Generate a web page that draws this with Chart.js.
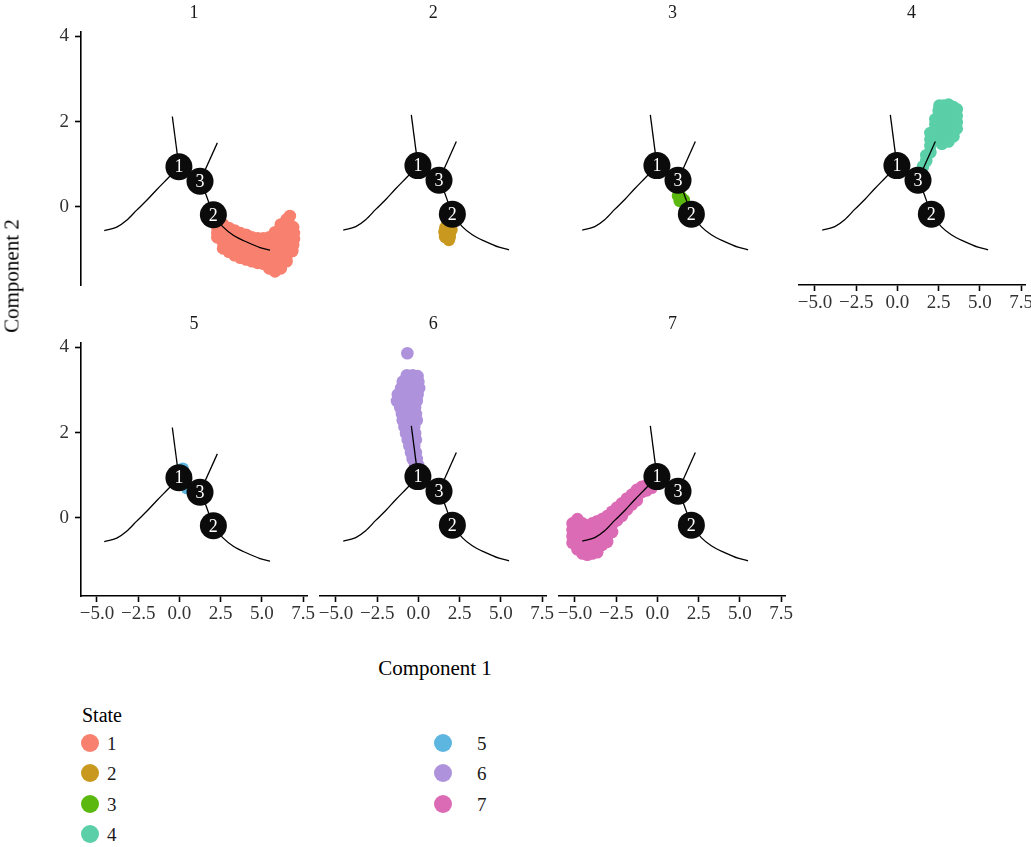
<!DOCTYPE html>
<html><head><meta charset="utf-8">
<script src="https://cdn.jsdelivr.net/npm/chart.js@4"></script>
<style>
body{margin:0;background:#fff;width:1031px;height:847px;position:relative;overflow:hidden;font-family:"Liberation Serif","DejaVu Serif",serif;}
canvas{position:absolute;}
.t{position:absolute;white-space:nowrap;color:#1a1a1a;line-height:1;transform:translate(-50%,-50%);}
.l{position:absolute;white-space:nowrap;color:#1a1a1a;line-height:1;transform:translate(0,-50%);}
.dot{position:absolute;width:18px;height:18px;border-radius:50%;transform:translate(-50%,-50%);}
</style></head><body>
<script>
// ---------- data ----------
const states = ['1','2','3','4','5','6','7'];
const stateColors = ['#F8806F','#C8991E','#5BB80E','#5ACFA8','#5DB6E0','#AE93DC','#DC6BB5'];

const xTicks = [-5, -2.5, 0, 2.5, 5, 7.5];
const xTickLabels = ['\u22125.0','\u22122.5','0.0','2.5','5.0','7.5'];
const yTicks = [0, 2, 4];
const yTickLabels = ['0','2','4'];

// branch points of the trajectory
const nodeIds = ['1','3','2'];
const nodeX = [-0.03, 1.25, 2.06];
const nodeY = [0.94, 0.60, -0.19];

// trajectory segments
const branchLeft  = [[-4.56,-0.56],[-3.80,-0.48],[-3.20,-0.32],[-2.59,-0.08],[-1.98,0.15],[-1.38,0.40],[-0.67,0.68],[-0.03,0.94]];
const branchTop   = [[-0.03,0.94],[-0.43,2.12]];
const branchMid   = [[-0.03,0.94],[1.25,0.60],[2.06,-0.19]];
const branchUp    = [[1.25,0.60],[2.30,1.50]];
const branchRight = [[2.06,-0.19],[2.66,-0.48],[3.27,-0.67],[4.08,-0.83],[4.89,-0.96],[5.50,-1.02]];

// cells per state (Component 1, Component 2)
const state1 = [
 [2.1,-0.3],[2.3,-0.35],[2.3,-0.5],[2.3,-0.62],[2.3,-0.72],
 [2.65,-0.42],[2.65,-0.56],[2.65,-0.7],[2.65,-0.84],[2.65,-0.98],
 [3.0,-0.5],[3.0,-0.64],[3.0,-0.78],[3.0,-0.92],[3.0,-1.06],
 [3.35,-0.56],[3.35,-0.7],[3.35,-0.85],[3.35,-1.0],[3.35,-1.14],
 [3.7,-0.62],[3.7,-0.76],[3.7,-0.9],[3.7,-1.05],[3.7,-1.2],
 [4.05,-0.66],[4.05,-0.8],[4.05,-0.95],[4.05,-1.1],[4.05,-1.24],
 [4.4,-0.72],[4.4,-0.86],[4.4,-1.0],[4.4,-1.15],[4.4,-1.28],
 [4.75,-0.74],[4.75,-0.88],[4.75,-1.03],[4.75,-1.18],[4.75,-1.32],
 [5.1,-0.74],[5.1,-0.88],[5.1,-1.03],[5.1,-1.18],[5.1,-1.34],
 [5.45,-0.72],[5.45,-0.86],[5.45,-1.02],[5.45,-1.18],[5.45,-1.34],[5.45,-1.45],
 [5.8,-0.6],[5.8,-0.72],[5.8,-0.86],[5.8,-1.02],[5.8,-1.18],[5.8,-1.35],[5.8,-1.52],
 [6.15,-0.42],[6.15,-0.56],[6.15,-0.7],[6.15,-0.86],[6.15,-1.02],[6.15,-1.18],[6.15,-1.33],[6.15,-1.45],
 [6.5,-0.3],[6.5,-0.42],[6.5,-0.56],[6.5,-0.7],[6.5,-0.86],[6.5,-1.02],[6.5,-1.16],[6.5,-1.28],
 [6.7,-0.22],[6.9,-0.48],[6.95,-0.62],[6.95,-0.76],[6.9,-0.9],[6.85,-1.04]
];
const state2 = [[1.64,-0.5],[1.82,-0.67],[1.85,-0.79],[1.58,-0.6],[2.0,-0.56],[1.9,-0.72],[1.7,-0.62],[1.75,-0.45],[1.62,-0.72]];
const state3 = [[1.25,0.24],[1.45,0.2],[1.6,0.14],[1.35,0.12]];
const state4 = [
 [1.55,0.92],[1.75,1.05],[1.75,1.18],[2.0,1.25],[2.0,1.4],[2.0,1.55],[2.0,1.7],
 [2.3,1.6],[2.3,1.75],[2.3,1.9],[2.3,2.02],
 [2.5,2.1],[2.5,2.22],[2.55,2.34],
 [2.7,1.45],[2.7,1.6],
 [2.8,1.75],[2.8,1.9],[2.8,2.05],[2.8,2.2],[2.8,2.34],
 [3.1,1.5],[3.1,1.65],[3.1,1.8],[3.1,1.95],[3.1,2.1],[3.1,2.25],[3.1,2.36],
 [3.4,1.62],[3.4,1.76],[3.4,1.9],[3.4,2.05],[3.4,2.2],[3.4,2.3],
 [3.6,1.8],[3.6,1.95],[3.6,2.1],[3.6,2.25]
];
const state5 = [[0.2,1.15],[0.35,1.0],[0.3,0.85],[0.45,0.7],[0.1,1.05],[0.4,0.9]];
const state6 = [
 [-0.67,3.81],
 [-0.7,3.3],[-0.35,3.3],[-0.05,3.28],
 [-0.95,3.15],[-0.6,3.15],[-0.3,3.15],[0.0,3.15],
 [-1.05,3.0],[-0.75,3.0],[-0.45,3.0],[-0.15,3.0],[0.05,3.0],
 [-1.25,2.85],[-0.95,2.85],[-0.65,2.85],[-0.35,2.85],[-0.05,2.85],
 [-1.3,2.7],[-1.0,2.7],[-0.7,2.7],[-0.4,2.7],[-0.1,2.7],
 [-1.1,2.55],[-0.8,2.55],[-0.5,2.55],[-0.2,2.55],
 [-1.0,2.4],[-0.7,2.4],[-0.4,2.4],[-0.15,2.4],
 [-0.95,2.25],[-0.65,2.25],[-0.35,2.25],[-0.1,2.25],
 [-0.85,2.1],[-0.55,2.1],[-0.25,2.1],
 [-0.75,1.95],[-0.45,1.95],[-0.2,1.95],
 [-0.65,1.8],[-0.35,1.8],[-0.15,1.8],
 [-0.55,1.65],[-0.25,1.65],
 [-0.45,1.5],[-0.15,1.5],
 [-0.35,1.35],[-0.1,1.35],
 [-0.2,1.2],[0.0,1.2]
];
const state7 = [
 [-5.15,-0.15],[-5.15,-0.3],[-5.15,-0.45],[-5.15,-0.6],
 [-4.85,-0.05],[-4.85,-0.2],[-4.85,-0.35],[-4.85,-0.5],[-4.85,-0.65],[-4.85,-0.75],
 [-4.55,-0.15],[-4.55,-0.3],[-4.55,-0.45],[-4.55,-0.6],[-4.55,-0.75],[-4.55,-0.85],
 [-4.25,-0.2],[-4.25,-0.35],[-4.25,-0.5],[-4.25,-0.65],[-4.25,-0.8],[-4.25,-0.88],
 [-3.95,-0.15],[-3.95,-0.3],[-3.95,-0.45],[-3.95,-0.6],[-3.95,-0.75],[-3.95,-0.85],
 [-3.65,-0.1],[-3.65,-0.25],[-3.65,-0.4],[-3.65,-0.55],[-3.65,-0.7],[-3.65,-0.82],
 [-3.35,-0.05],[-3.35,-0.2],[-3.35,-0.35],[-3.35,-0.5],[-3.35,-0.65],
 [-3.05,0.02],[-3.05,-0.15],[-3.05,-0.3],[-3.05,-0.45],[-3.05,-0.58],
 [-2.75,0.12],[-2.75,-0.02],[-2.75,-0.17],[-2.75,-0.35],
 [-2.45,0.22],[-2.45,0.07],[-2.45,-0.08],
 [-2.15,0.32],[-2.15,0.17],[-2.15,0.03],
 [-1.85,0.43],[-1.85,0.3],[-1.85,0.17],
 [-1.55,0.52],[-1.55,0.4],[-1.55,0.29],
 [-1.25,0.63],[-1.25,0.5],[-1.25,0.39],
 [-0.95,0.7],[-0.95,0.58],
 [-0.65,0.74],[-0.65,0.62],
 [-0.35,0.77],[-0.35,0.68]
];
const cells = [state1,state2,state3,state4,state5,state6,state7];

// ---------- layout ----------
const colLeft = [81, 320.2, 559.4, 798.6];
const rowTop = [29, 340];
const PW = 226, PH = 256;
const GL = 60, GT = 15, GR = 15, GB = 40;
const panelPos = [[0,0],[1,0],[2,0],[3,0],[0,1],[1,1],[2,1]];

const toPts = a => a.map(p => ({x:p[0], y:p[1]}));
const nodes = nodeX.map((x,k)=>({x:x, y:nodeY[k]}));
const segments = [branchLeft, branchTop, branchMid, branchUp, branchRight];

const nodeLabelPlugin = {
  id:'nodeLabels',
  afterDatasetsDraw(chart){
    const meta = chart.getDatasetMeta(0);
    const ctx = chart.ctx;
    ctx.save();
    ctx.fillStyle = '#ffffff';
    ctx.font = '18px "Liberation Serif"';
    ctx.textAlign = 'center';
    ctx.textBaseline = 'middle';
    meta.data.forEach((el,k)=>{ ctx.fillText(nodeIds[k], el.x, el.y + 1); });
    ctx.restore();
  }
};

function addText(cls, txt, x, y, size, extra){
  const d = document.createElement('div');
  d.className = cls; d.textContent = txt;
  d.style.left = x+'px'; d.style.top = y+'px'; d.style.fontSize = size+'px';
  if (extra) Object.assign(d.style, extra);
  document.body.appendChild(d);
  return d;
}

panelPos.forEach(([col,row], i) => {
  const showY = col === 0;
  const showX = row === 1 || i === 3;
  const cv = document.createElement('canvas');
  cv.width = GL + PW + GR; cv.height = GT + PH + GB;
  cv.style.left = (colLeft[col] - GL) + 'px';
  cv.style.top = (rowTop[row] - GT) + 'px';
  document.body.appendChild(cv);

  const datasets = [
    {data:nodes, order:0, pointRadius:13.5, pointHoverRadius:13.5, backgroundColor:'#0b0b0b', borderWidth:0}
  ];
  segments.forEach(s => datasets.push({data:toPts(s), order:1, showLine:true, pointRadius:0, borderColor:'#000', borderWidth:1.3, cubicInterpolationMode:'monotone', fill:false}));
  datasets.push({data:toPts(cells[i]), order:2, pointRadius:6.3, pointHoverRadius:6.3, backgroundColor:stateColors[i], borderWidth:0});

  const tickFont = {family:'"Liberation Serif"', size:19};
  new Chart(cv, {
    type:'scatter',
    data:{datasets},
    options:{
      responsive:false, animation:false, devicePixelRatio:1, events:[],
      layout:{padding:{left:0, top:GT, right:GR, bottom:0}},
      plugins:{legend:{display:false}, tooltip:{enabled:false}},
      scales:{
        x:{type:'linear', min:-5.97, max:7.74,
          afterFit:s=>{s.height = GB;},
          afterBuildTicks:s=>{s.ticks = xTicks.map(v=>({value:v}));},
          ticks:{display:showX, color:'#333', font:tickFont, padding:1, maxRotation:0, autoSkip:false,
                 callback:v=>xTickLabels[xTicks.indexOf(v)]},
          border:{display:showX, color:'#000', width:1.6},
          grid:{display:showX, drawOnChartArea:false, drawTicks:true, tickLength:6, tickColor:'#000', tickWidth:1.6}
        },
        y:{type:'linear', min:-1.84, max:4.12,
          afterFit:s=>{s.width = GL;},
          afterBuildTicks:s=>{s.ticks = yTicks.map(v=>({value:v}));},
          ticks:{display:showY, color:'#333', font:tickFont, padding:6, autoSkip:false,
                 callback:v=>yTickLabels[yTicks.indexOf(v)]},
          border:{display:showY, color:'#000', width:1.6},
          grid:{display:showY, drawOnChartArea:false, drawTicks:true, tickLength:6, tickColor:'#000', tickWidth:1.6}
        }
      }
    },
    plugins:[nodeLabelPlugin]
  });

  // strip label
  addText('t', states[i], colLeft[col] + PW/2, rowTop[row] - 17, 18);
});

// axis titles
addText('t', 'Component 1', 435, 668, 21, {color:'#000'});
addText('t', 'Component 2', 12, 276, 21, {color:'#000', transform:'translate(-50%,-50%) rotate(-90deg)'});

// legend
addText('l', 'State', 82, 715, 20, {color:'#000'});
const legendPos = [[90,743],[90,773],[90,804],[90,834],[443,743],[443,773],[443,804]];
const legendLabelX = [107,107,107,107,477,477,477];
states.forEach((s,k)=>{
  const d = document.createElement('div');
  d.className = 'dot';
  d.style.left = legendPos[k][0]+'px'; d.style.top = legendPos[k][1]+'px';
  d.style.background = stateColors[k];
  document.body.appendChild(d);
  addText('l', s, legendLabelX[k], legendPos[k][1], 19);
});
</script>
</body></html>
